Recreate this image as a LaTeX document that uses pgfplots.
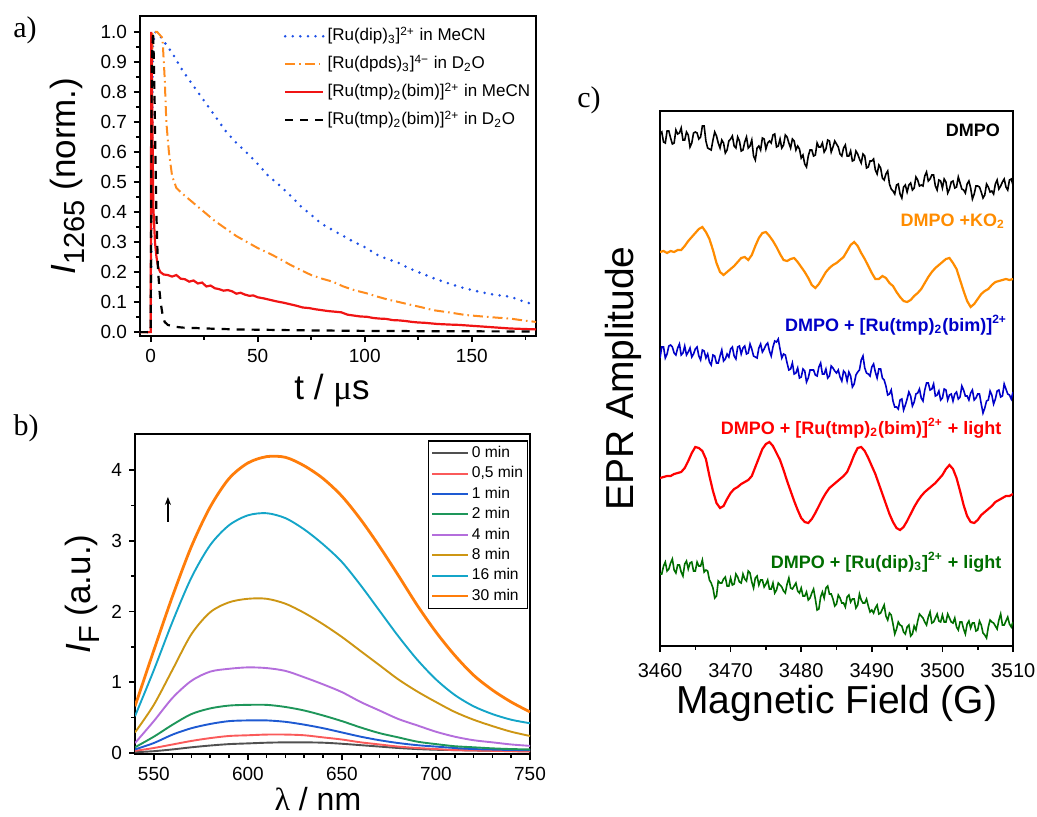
\documentclass[border=0pt]{standalone}
\usepackage{fontspec}
\setmainfont{Liberation Sans}
\newfontfamily\seriffont{Liberation Serif}
\usepackage{pgfplots}
\pgfplotsset{compat=1.18}
\usepackage{pgfplotstable}
\usetikzlibrary{arrows.meta}

\definecolor{ablue}{RGB}{30,80,230}
\definecolor{aorange}{RGB}{255,140,30}
\definecolor{ared}{RGB}{240,20,20}
\definecolor{b0}{RGB}{80,80,80}
\definecolor{b05}{RGB}{250,90,90}
\definecolor{b1}{RGB}{30,90,210}
\definecolor{b2}{RGB}{30,150,90}
\definecolor{b4}{RGB}{180,110,220}
\definecolor{b8}{RGB}{205,150,20}
\definecolor{b16}{RGB}{20,165,200}
\definecolor{b30}{RGB}{255,125,10}
\definecolor{corange}{RGB}{255,140,0}
\definecolor{cblue}{RGB}{0,0,200}
\definecolor{cred}{RGB}{255,0,0}
\definecolor{cgreen}{RGB}{0,110,0}

\pgfplotsset{
  every axis/.append style={
    scale only axis,
    axis line style={line width=0.9pt},
    tick style={line width=0.8pt, black},
    tick align=outside, major tick length=3pt, minor tick length=1.8pt,
    xtick pos=left, ytick pos=left,
    /pgf/number format/assume math mode=true,
    tick label style={font=\fontsize{9.5}{11}\selectfont},
    label style={font=\fontsize{17.5}{20}\selectfont},
  }
}

% EPR panel c: noisy traces (DMPO, DMPO+Ru(tmp), DMPO+Ru(dip)+light)
\pgfplotstableread{
G       k   b   g
3460.00 512 288 72
3460.25 514 299 72
3460.50 504 299 80
3460.75 503 288 84
3461.00 515 292 75
3461.25 515 300 77
3461.50 508 301 83
3461.75 502 299 87
3462.00 503 293 76
3462.25 516 291 73
3462.50 512 298 81
3462.75 513 302 81
3463.00 518 291 74
3463.25 506 293 70
3463.50 506 300 82
3463.75 514 291 85
3464.00 511 294 77
3464.25 499 298 83
3464.50 503 289 84
3464.75 513 292 75
3465.00 514 297 75
3465.25 513 299 84
3465.50 507 290 80
3465.75 509 286 80
3466.00 520 296 86
3466.25 520 295 74
3466.50 505 288 76
3466.75 498 292 75
3467.00 497 284 66
3467.25 496 281 63
3467.50 506 291 58
3467.75 514 290 48
3468.00 510 283 50
3468.25 503 283 65
3468.50 498 290 63
3468.75 506 296 63
3469.00 503 285 67
3469.25 493 287 69
3469.50 496 292 60
3469.75 505 289 60
3470.00 507 297 68
3470.25 510 299 61
3470.50 500 290 62
3470.75 498 287 72
3471.00 509 299 69
3471.25 505 300 64
3471.50 495 292 63
3471.75 496 298 72
3472.00 504 300 67
3472.25 509 292 65
3472.50 498 293 75
3472.75 500 302 73
3473.00 506 297 64
3473.25 490 290 58
3473.50 486 289 68
3473.75 498 288 70
3474.00 500 298 61
3474.25 496 302 66
3474.50 508 294 66
3474.75 507 297 59
3475.00 497 301 62
3475.25 503 303 66
3475.50 505 295 57
3475.75 503 290 57
3476.00 511 299 63
3476.25 512 305 53
3476.50 499 304 56
3476.75 500 307 63
3477.00 507 297 61
3477.25 498 288 59
3477.50 501 292 55
3477.75 511 291 53
3478.00 509 283 62
3478.25 503 276 68
3478.50 498 277 58
3478.75 507 283 57
3479.00 505 272 60
3479.25 496 273 63
3479.50 500 278 55
3479.75 497 268 53
3480.00 488 269 58
3480.25 491 277 50
3480.50 482 275 50
3480.75 479 264 54
3481.00 490 268 46
3481.25 496 276 48
3481.50 496 276 53
3481.75 490 276 57
3482.00 491 271 47
3482.25 503 270 36
3482.50 499 279 37
3482.75 499 283 49
3483.00 503 272 54
3483.25 494 272 48
3483.50 497 277 58
3483.75 506 268 60
3484.00 505 270 52
3484.25 494 280 52
3484.50 499 278 47
3484.75 505 275 40
3485.00 502 273 42
3485.25 499 276 51
3485.50 492 269 48
3485.75 490 265 43
3486.00 498 275 43
3486.25 501 273 39
3486.50 490 265 49
3486.75 490 274 51
3487.00 495 270 44
3487.25 485 259 47
3487.50 486 262 47
3487.75 495 271 38
3488.00 492 274 41
3488.25 487 276 52
3488.50 483 286 46
3488.75 492 290 43
3489.00 490 278 43
3489.25 478 273 47
3489.50 479 272 40
3489.75 485 270 34
3490.00 485 279 36
3490.25 487 282 33
3490.50 476 274 38
3490.75 472 268 41
3491.00 481 277 32
3491.25 478 277 33
3491.50 468 268 37
3491.75 466 266 41
3492.00 472 260 30
3492.25 475 251 26
3492.50 462 252 33
3492.75 457 256 31
3493.00 455 245 22
3493.25 452 239 12
3493.50 461 239 17
3493.75 462 237 24
3494.00 452 246 21
3494.25 448 247 20
3494.50 459 236 14
3494.75 461 241 12
3495.00 454 247 19
3495.25 461 254 21
3495.50 463 250 10
3495.75 456 240 12
3496.00 458 244 20
3496.25 469 252 16
3496.50 466 253 25
3496.75 460 257 32
3497.00 461 248 30
3497.25 460 245 28
3497.50 470 256 24
3497.75 474 263 21
3498.00 465 263 29
3498.25 467 256 34
3498.50 471 257 23
3498.75 471 262 24
3499.00 460 250 28
3499.25 456 251 32
3499.50 466 255 25
3499.75 465 246 24
3500.00 458 248 31
3500.25 467 257 24
3500.50 464 256 24
3500.75 453 246 32
3501.00 457 251 28
3501.25 464 252 24
3501.50 465 245 23
3501.75 458 252 28
3502.00 459 254 19
3502.25 469 247 16
3502.50 463 249 24
3502.75 457 260 24
3503.00 456 256 17
3503.25 453 250 12
3503.50 462 250 22
3503.75 465 246 25
3504.00 458 253 18
3504.25 447 256 23
3504.50 452 246 23
3504.75 460 248 15
3505.00 460 252 16
3505.25 459 252 25
3505.50 454 242 21
3505.75 448 233 13
3506.00 451 238 11
3506.25 462 245 8
3506.50 459 246 19
3506.75 454 255 26
3507.00 455 251 24
3507.25 452 242 23
3507.50 462 247 20
3507.75 466 255 17
3508.00 457 256 26
3508.25 460 249 32
3508.50 464 250 21
3508.75 467 262 21
3509.00 459 257 25
3509.25 456 252 29
3509.50 466 251 22
3509.75 467 247 19
3510.00 461 254 24
}\eprnoisy

% EPR panel c: spin-adduct traces (DMPO+KO2, DMPO+Ru(tmp)+light)
\pgfplotstableread{
G      o   r
3460.0 394 168
3460.5 395 169
3461.0 393 170
3461.5 395 170
3462.0 394 172
3462.5 396 173
3463.0 396 174
3463.5 400 178
3464.0 405 185
3464.5 409 193
3465.0 413 199
3465.5 417 198
3466.0 419 195
3466.5 414 187
3467.0 407 170
3467.5 396 155
3468.0 383 143
3468.5 374 138
3469.0 371 140
3469.5 374 147
3470.0 377 153
3470.5 380 157
3471.0 384 159
3471.5 388 162
3472.0 389 164
3472.5 386 166
3473.0 391 170
3473.5 400 179
3474.0 408 188
3474.5 413 197
3475.0 414 202
3475.5 410 204
3476.0 405 200
3476.5 399 193
3477.0 392 186
3477.5 386 176
3478.0 385 165
3478.5 387 155
3479.0 388 145
3479.5 384 136
3480.0 379 128
3480.5 374 124
3481.0 368 123
3481.5 361 127
3482.0 358 133
3482.5 362 140
3483.0 368 147
3483.5 374 153
3484.0 378 158
3484.5 381 161
3485.0 383 164
3485.5 386 167
3486.0 389 170
3486.5 395 174
3487.0 401 182
3487.5 404 191
3488.0 400 198
3488.5 393 199
3489.0 387 195
3489.5 380 188
3490.0 373 180
3490.5 367 172
3491.0 367 162
3491.5 370 152
3492.0 368 142
3492.5 363 132
3493.0 360 124
3493.5 354 118
3494.0 349 116
3494.5 345 119
3495.0 344 125
3495.5 346 132
3496.0 350 139
3496.5 353 145
3497.0 357 150
3497.5 363 154
3498.0 369 157
3498.5 374 160
3499.0 378 163
3499.5 381 167
3500.0 384 171
3500.5 387 177
3501.0 388 181
3501.5 383 177
3502.0 377 168
3502.5 366 155
3503.0 355 141
3503.5 345 130
3504.0 339 124
3504.5 342 123
3505.0 347 126
3505.5 352 131
3506.0 355 134
3506.5 357 137
3507.0 361 140
3507.5 364 144
3508.0 365 146
3508.5 366 148
3509.0 367 150
3509.5 366 150
3510.0 367 152
}\eprsmooth

\begin{document}
\begin{tikzpicture}
\path[use as bounding box] (0,0) rectangle (518.5pt,408pt);

% ---------------- panel a ----------------
\begin{axis}[
  at={(70pt,240pt)}, anchor=south west,
  width=198pt, height=160pt,
  xmin=-5, xmax=180, ymin=-0.013, ymax=1.053,
  xtick={0,50,100,150}, minor xtick={25,75,125,175},
  ytick={0,0.1,0.2,0.3,0.4,0.5,0.6,0.7,0.8,0.9,1.0},
  minor ytick={0.05,0.15,0.25,0.35,0.45,0.55,0.65,0.75,0.85,0.95},
  yticklabel style={/pgf/number format/.cd, fixed, fixed zerofill, precision=1},
  xlabel={t / {\seriffont μ}s},
  ylabel={\textit{I}\raisebox{-0.5ex}{\fontsize{14.5}{15}\selectfont 1265} (norm.)},
  xlabel style={at={(axis description cs:0.485,-0.17)}, anchor=center},
  ylabel style={at={(axis description cs:-0.184,0.5)}, anchor=center},
  legend style={at={(rel axis cs:0.362,0.977)}, anchor=north west, draw=none, fill=none,
    font=\fontsize{8.5}{9.5}\selectfont, inner sep=0pt, row sep=1.5pt,
    nodes={inner sep=1.5pt, text height=7pt, text depth=2.5pt}},
  legend cell align=left,
  legend image code/.code={\draw[#1] (0pt,0pt) -- (19pt,0pt);},
]
\addplot[ablue, line width=1.4pt, line cap=round, dash pattern=on 0pt off 3.8pt] coordinates {
  (-5,0)(0,0)(1,0.95)(2,1.0)(4,0.99)(7,0.96)(10,0.93)(15,0.87)(20,0.82)(25,0.77)
  (30,0.72)(35,0.67)(40,0.63)(46,0.59)(50,0.56)(55,0.52)(60,0.49)(66,0.45)(70,0.42)
  (75,0.39)(80,0.36)(85,0.34)(90,0.32)(95,0.30)(101,0.28)(105,0.26)(110,0.245)
  (116,0.23)(120,0.215)(125,0.20)(132,0.18)(140,0.16)(147,0.145)(155,0.132)
  (160,0.125)(168,0.118)(175,0.10)(180,0.09)
};
\addlegendentry{[Ru(dip)\textsubscript{3}]\textsuperscript{2+} in MeCN}
\addplot[aorange, line width=1pt, dash pattern=on 5pt off 2pt on 0.8pt off 2pt] coordinates {
  (-5,0)(0,0)(0.8,1.0)(3,1.0)(5.5,0.98)(6.5,0.85)(7.3,0.70)(8.5,0.60)(10,0.52)
  (12,0.48)(15,0.46)(20,0.43)(25,0.40)(30,0.37)(35,0.345)(40,0.32)(45,0.30)
  (50,0.28)(56,0.26)(60,0.245)(65,0.225)(70,0.207)(75,0.19)(80,0.178)(85,0.168)
  (90,0.152)(95,0.14)(101,0.129)(106,0.118)(111,0.108)(116,0.10)(122,0.09)
  (127,0.082)(132,0.073)(140,0.065)(147,0.057)(155,0.052)(162,0.048)(168,0.045)
  (175,0.038)(180,0.034)
};
\addlegendentry{[Ru(dpds)\textsubscript{3}]\textsuperscript{4−} in D\textsubscript{2}O}
\addplot[ared, line width=1.1pt] coordinates {
  (-5,0)(0,0)(0.3,1.0)(0.8,0.7)(1.2,0.42)(2,0.3)(2.7,0.25)(3.5,0.215)(4.5,0.2)
  (6,0.192)(8,0.19)(10,0.185)(12,0.19)(14,0.178)(16,0.176)(18,0.168)(20,0.172)
  (22,0.162)(24,0.165)(26,0.152)(28,0.155)(30,0.146)(32,0.143)(34,0.138)(36,0.14)
  (38,0.136)(40,0.128)(42,0.131)(44,0.125)(46,0.121)(48,0.122)(50,0.116)(53,0.112)
  (56,0.107)(59,0.102)(62,0.098)(65,0.093)(68,0.088)(71,0.082)(74,0.08)(77,0.076)
  (80,0.073)(83,0.07)(86,0.068)(89,0.066)(92,0.058)(95,0.055)(98,0.052)(101,0.051)
  (104,0.047)(107,0.045)(110,0.044)(113,0.04)(116,0.039)(119,0.037)(122,0.034)
  (125,0.032)(128,0.031)(131,0.029)(134,0.027)(137,0.026)(140,0.025)(144,0.024)
  (148,0.022)(152,0.02)(156,0.018)(160,0.016)(164,0.014)(168,0.012)(172,0.011)
  (176,0.01)(180,0.009)
};
\addlegendentry{[Ru(tmp)\textsubscript{2}(bim)]\textsuperscript{2+} in MeCN}
\addplot[black, line width=1.1pt, dash pattern=on 4pt off 3.5pt] coordinates {
  (-5,0)(0,0)(0.5,0.9)(1.1,1.0)(1.5,0.9)(1.9,0.74)(2.6,0.41)(3.4,0.21)(4.2,0.13)
  (4.7,0.096)(5.5,0.06)(6.5,0.034)(8,0.024)(11,0.018)(15,0.015)(23,0.013)(30,0.011)
  (40,0.009)(50,0.008)(70,0.006)(100,0.004)(130,0.003)(180,0.002)
};
\addlegendentry{[Ru(tmp)\textsubscript{2}(bim)]\textsuperscript{2+} in D\textsubscript{2}O}
\end{axis}

% ---------------- panel b ----------------
\begin{axis}[
  at={(67.5pt,31pt)}, anchor=south west,
  width=197.5pt, height=160pt,
  xmin=540, xmax=750, ymin=-0.015, ymax=4.51,
  xtick={550,600,650,700,750}, minor x tick num=4,
  ytick={0,1,2,3,4}, minor y tick num=1,
  xlabel={{\seriffont λ} / nm},
  ylabel={\textit{I}\raisebox{-0.5ex}{\fontsize{14.5}{15}\selectfont F} (a.u.)},
  xlabel style={at={(axis description cs:0.463,-0.14)}, anchor=center, inner sep=0pt,
    font=\fontsize{16}{18}\selectfont},
  ylabel style={at={(axis description cs:-0.134,0.5)}, anchor=center},
  legend style={at={(rel axis cs:0.995,0.98)}, anchor=north east, draw=black,
    line width=0.6pt, fill=white, font=\fontsize{7.8}{9}\selectfont,
    inner sep=1pt, row sep=0pt,
    nodes={inner sep=1.2pt, text height=6pt, text depth=1.8pt}},
  legend cell align=left,
  legend image code/.code={\draw[#1] (0pt,0pt) -- (18pt,0pt);},
]
\addplot[b0, line width=0.95pt, smooth] coordinates {
  (540,0.01)(550,0.025)(560,0.05)(570,0.08)(580,0.105)(590,0.125)(600,0.135)
  (610,0.145)(620,0.15)(630,0.15)(640,0.145)(650,0.13)(660,0.11)(670,0.09)
  (680,0.07)(690,0.055)(700,0.045)(710,0.04)(720,0.035)(730,0.03)(740,0.027)(750,0.025)
};
\addlegendentry{0 min}
\addplot[b05, line width=0.95pt, smooth] coordinates {
  (540,0.03)(550,0.07)(560,0.12)(570,0.17)(580,0.21)(590,0.24)(600,0.25)
  (610,0.26)(620,0.26)(630,0.25)(640,0.22)(650,0.19)(660,0.15)(670,0.12)
  (680,0.09)(690,0.07)(700,0.055)(710,0.04)(720,0.035)(730,0.03)(740,0.025)(750,0.02)
};
\addlegendentry{0,5 min}
\addplot[b1, line width=0.95pt, smooth] coordinates {
  (540,0.05)(550,0.14)(560,0.26)(570,0.35)(580,0.41)(590,0.45)(600,0.46)
  (610,0.46)(620,0.44)(630,0.40)(640,0.35)(650,0.29)(660,0.23)(670,0.18)
  (680,0.14)(690,0.11)(700,0.09)(710,0.07)(720,0.055)(730,0.048)(740,0.042)(750,0.04)
};
\addlegendentry{1 min}
\addplot[b2, line width=0.95pt, smooth] coordinates {
  (540,0.08)(550,0.23)(560,0.40)(570,0.55)(580,0.63)(590,0.67)(600,0.68)
  (610,0.68)(620,0.65)(630,0.60)(640,0.53)(650,0.45)(660,0.36)(670,0.28)
  (680,0.22)(690,0.16)(700,0.125)(710,0.095)(720,0.08)(730,0.065)(740,0.055)(750,0.05)
};
\addlegendentry{2 min}
\addplot[b4, line width=0.95pt, smooth] coordinates {
  (540,0.14)(550,0.45)(560,0.78)(570,1.02)(580,1.15)(590,1.19)(600,1.21)
  (610,1.20)(620,1.16)(630,1.07)(640,0.97)(650,0.86)(660,0.72)(670,0.60)
  (680,0.48)(690,0.39)(700,0.30)(710,0.23)(720,0.18)(730,0.15)(740,0.12)(750,0.10)
};
\addlegendentry{4 min}
\addplot[b8, line width=0.95pt, smooth] coordinates {
  (540,0.29)(550,0.68)(560,1.18)(570,1.68)(580,1.99)(590,2.13)(600,2.18)
  (610,2.18)(620,2.11)(630,1.98)(640,1.82)(650,1.64)(660,1.44)(670,1.24)
  (680,1.04)(690,0.87)(700,0.72)(710,0.58)(720,0.47)(730,0.38)(740,0.30)(750,0.24)
};
\addlegendentry{8 min}
\addplot[b16, line width=0.95pt, smooth] coordinates {
  (540,0.52)(550,1.17)(560,1.86)(570,2.48)(580,2.94)(590,3.22)(600,3.36)
  (610,3.39)(620,3.32)(630,3.16)(640,2.95)(650,2.70)(660,2.37)(670,2.01)
  (680,1.65)(690,1.32)(700,1.04)(710,0.82)(720,0.66)(730,0.55)(740,0.47)(750,0.42)
};
\addlegendentry{16 min}
\addplot[b30, line width=1.4pt, smooth] coordinates {
  (540,0.66)(550,1.45)(560,2.22)(570,2.92)(580,3.48)(590,3.88)(600,4.10)
  (610,4.19)(620,4.18)(630,4.06)(640,3.88)(650,3.63)(660,3.30)(670,2.92)
  (680,2.51)(690,2.09)(700,1.71)(710,1.38)(720,1.10)(730,0.89)(740,0.72)(750,0.58)
};
\addlegendentry{30 min}
\draw[-{Stealth[length=4pt,width=3pt]}, line width=0.8pt] (axis cs:557.5,3.27) -- (axis cs:557.5,3.62);
\end{axis}

% ---------------- panel c ----------------
\begin{axis}[
  at={(330pt,85pt)}, anchor=south west,
  width=176.5pt, height=267.5pt,
  xmin=3460, xmax=3510, ymin=0, ymax=535,
  xtick={3460,3470,3480,3490,3500,3510}, minor x tick num=1,
  ytick=\empty,
  tick label style={font=\fontsize{10}{12}\selectfont},
  xticklabel style={/pgf/number format/1000 sep={}, yshift=-2pt},
  label style={font=\fontsize{19.5}{22}\selectfont},
  xlabel={Magnetic Field (G)},
  ylabel={EPR Amplitude},
  xlabel style={at={(axis description cs:0.501,-0.1065)}, anchor=center},
  ylabel style={at={(axis description cs:-0.105,0.5)}, anchor=center},
]
\addplot[black, line width=0.8pt] table[x=G, y=k] {\eprnoisy};
\addplot[corange, line width=1.1pt] table[x=G, y=o] {\eprsmooth};
\addplot[cblue, line width=0.8pt] table[x=G, y=b] {\eprnoisy};
\addplot[cred, line width=1.1pt] table[x=G, y=r] {\eprsmooth};
\addplot[cgreen, line width=0.8pt] table[x=G, y=g] {\eprnoisy};
\begin{scope}[every node/.style={anchor=base east, inner sep=0pt, font=\bfseries\fontsize{9}{10}\selectfont}]
\node[text=black] at (axis cs:3508.2,510) {DMPO};
\node[text=corange] at (axis cs:3508.9,420) {DMPO +KO\textsubscript{2}};
\node[text=cblue] at (axis cs:3509.2,315) {DMPO + [Ru(tmp)\textsubscript{2}(bim)]\textsuperscript{2+}};
\node[text=cred] at (axis cs:3508.4,212) {DMPO + [Ru(tmp)\textsubscript{2}(bim)]\textsuperscript{2+} + light};
\node[text=cgreen] at (axis cs:3508.4,78) {DMPO + [Ru(dip)\textsubscript{3}]\textsuperscript{2+} + light};
\end{scope}
\end{axis}

\node[font=\seriffont\fontsize{15}{16}\selectfont] at (12.5pt,393pt) {a)};
\node[font=\seriffont\fontsize{15}{16}\selectfont] at (13pt,194pt) {b)};
\node[font=\seriffont\fontsize{15}{16}\selectfont] at (294.5pt,358pt) {c)};
\end{tikzpicture}
\end{document}
